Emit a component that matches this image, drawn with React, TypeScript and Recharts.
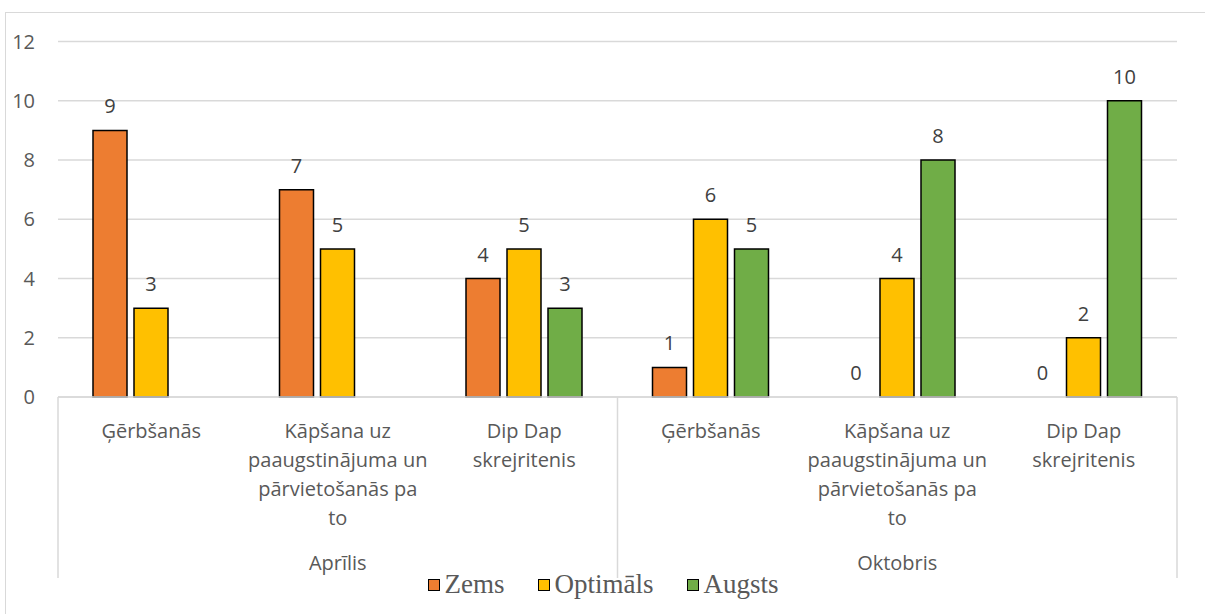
import React from 'react';
import { BarChart, Bar, XAxis, YAxis, CartesianGrid, Legend, Rectangle } from 'recharts';

// categories (line breaks as in the original axis labels)
const categories = [
  'Ģērbšanās',
  'Kāpšana uz\npaaugstinājuma un\npārvietošanās pa\nto',
  'Dip Dap\nskrejritenis',
  'Ģērbšanās',
  'Kāpšana uz\npaaugstinājuma un\npārvietošanās pa\nto',
  'Dip Dap\nskrejritenis',
];
const months = ['Aprīlis', 'Oktobris'];
const monthOfCategory = [0, 0, 0, 1, 1, 1];

const zems = [9, 7, 4, 1, 0, 0];
const optimals = [3, 5, 5, 6, 4, 2];
const augsts: (number | null)[] = [null, null, 3, 5, 8, 10];

const yTicks = [0, 2, 4, 6, 8, 10, 12];

const series = [
  { key: 'Zems', color: '#ED7D31' },
  { key: 'Optimāls', color: '#FFC000' },
  { key: 'Augsts', color: '#70AD47' },
];

const W = 1205;
const H = 614;
const MARGIN = { top: 41.5, right: 28, bottom: 0, left: 0 };
const Y_AXIS_W = 58;
const X_AXIS_H = 181;
const LEGEND_H = 36;
const catW = (W - Y_AXIS_W - MARGIN.left - MARGIN.right) / categories.length;

const FONT = '"Open Sans", sans-serif';
const GRID = '#d9d9d9';

const data = categories.map((c, i) => ({
  name: c,
  month: months[monthOfCategory[i]],
  Zems: zems[i],
  'Optimāls': optimals[i],
  Augsts: augsts[i],
}));

const CategoryTick = (props: any) => {
  const { x, y, payload, index } = props;
  const idx = index ?? payload.index;
  const lines = String(payload.value).split('\n');
  const m = monthOfCategory[idx];
  const groupIdx = monthOfCategory.map((g, i) => (g === m ? i : -1)).filter((i) => i >= 0);
  const isGroupMid = groupIdx[Math.floor(groupIdx.length / 2)] === idx;
  const isGroupStart = groupIdx[0] === idx;
  const isLast = idx === categories.length - 1;
  return (
    <g>
      {lines.map((l, i) => (
        <text key={i} x={x} y={y + 41 + i * 29} textAnchor="middle" fontSize={20} fontFamily={FONT} fill="#595959">
          {l}
        </text>
      ))}
      {isGroupMid && (
        <text x={x} y={y + 173} textAnchor="middle" fontSize={20} fontFamily={FONT} fill="#595959">
          {months[m]}
        </text>
      )}
      {isGroupStart && (
        <line x1={x - catW / 2} x2={x - catW / 2} y1={y} y2={y + X_AXIS_H} stroke={GRID} strokeWidth={1.5} />
      )}
      {isLast && (
        <line x1={x + catW / 2} x2={x + catW / 2} y1={y} y2={y + X_AXIS_H} stroke={GRID} strokeWidth={1.5} />
      )}
    </g>
  );
};

// bar plus its value label; zero-height bars still get their "0"
const makeShape = (key: string) => (props: any) => {
  const { x, y, width, height, fill, payload } = props;
  const value = payload ? payload[key] : props.value;
  if (value === null || value === undefined) return <g />;
  return (
    <g>
      {height > 0 && (
        <Rectangle x={x} y={y} width={width} height={height} fill={fill} stroke="#000" strokeWidth={1.5} />
      )}
      <text x={x + width / 2} y={y - 17} textAnchor="middle" fontSize={20} fontFamily={FONT} fill="#404040">
        {value}
      </text>
    </g>
  );
};

const LegendContent = () => (
  <div
    style={{
      display: 'flex',
      justifyContent: 'center',
      gap: 34,
      paddingLeft: 30,
      marginTop: -7,
      fontFamily: '"Liberation Serif", "Times New Roman", serif',
      fontSize: 27,
      lineHeight: '27px',
      color: '#595959',
    }}
  >
    {series.map((s) => (
      <div key={s.key} style={{ display: 'flex', alignItems: 'center', gap: 4 }}>
        <span
          style={{
            display: 'inline-block',
            width: 10,
            height: 10,
            background: s.color,
            border: '1.5px solid #000',
          }}
        />
        <span>{s.key}</span>
      </div>
    ))}
  </div>
);

export default function App() {
  return (
    <div style={{ position: 'absolute', left: 0, top: 0, width: W, height: H, overflow: 'hidden', background: '#fff' }}>
      <div
        style={{
          position: 'absolute',
          left: 5,
          top: 12,
          width: W + 50,
          height: H + 50,
          border: `1.5px solid ${GRID}`,
        }}
      />
      <div style={{ position: 'absolute', left: 0, top: 0 }}>
        <BarChart width={W} height={H} data={data} margin={MARGIN} barSize={34} barGap={7}>
          <CartesianGrid vertical={false} stroke={GRID} strokeWidth={1.5} />
          <XAxis
            dataKey="name"
            height={X_AXIS_H}
            interval={0}
            tickLine={false}
            tickSize={0}
            tickMargin={0}
            axisLine={{ stroke: GRID, strokeWidth: 1.5 }}
            tick={<CategoryTick />}
          />
          <YAxis
            width={Y_AXIS_W}
            domain={[0, 12]}
            ticks={yTicks}
            axisLine={false}
            tickLine={false}
            tickSize={0}
            tickMargin={23}
            tick={{ fontSize: 20, fontFamily: FONT, fill: '#595959' }}
          />
          <Legend verticalAlign="bottom" height={LEGEND_H} content={<LegendContent />} />
          {series.map((s) => (
            <Bar
              key={s.key}
              dataKey={s.key}
              fill={s.color}
              stroke="#000"
              strokeWidth={1.5}
              shape={makeShape(s.key)}
              isAnimationActive={false}
            />
          ))}
        </BarChart>
      </div>
    </div>
  );
}
